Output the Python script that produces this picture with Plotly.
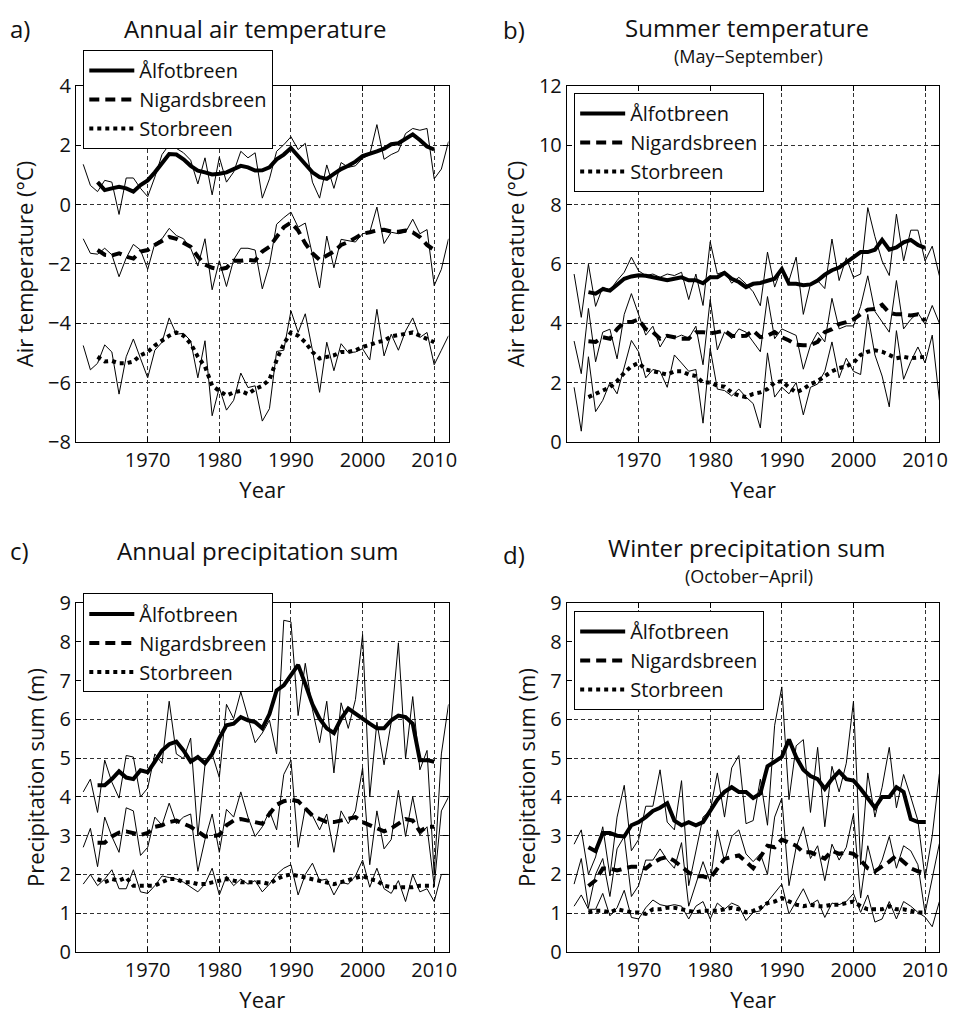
import plotly.graph_objects as go

# ---------------------------------------------------------------
# Years
years = list(range(1961, 2013))          # annual values
years_smooth = list(range(1963, 2011))   # 5-year running means

stations = ["Ålfotbreen", "Nigardsbreen", "Storbreen"]

# ---------------------------------------------------------------
# a) Annual air temperature (°C)
ann_temp_alfot = [1.36, 0.65, 0.44, 0.82, 0.76, -0.33, 0.9, 0.9, 0.55, 0.27,
                  0.93, 1.69, 2.02, 1.9, 1.75, 1.5, 0.7, 1.58, 0.33, 1.6,
                  0.76, 1.1, 1.8, 1.58, 1.75, 0.22, 0.87, 1.8, 2.02, 2.29,
                  1.86, 2.07, 0.76, 0.22, 1.34, 0.55, 1.42, 1.26, 1.31, 1.56,
                  1.69, 2.7, 1.53, 1.69, 1.8, 2.4, 2.57, 2.51, 2.57, 0.87,
                  1.2, 2.13]
ann_temp_nigard = [-1.15, -1.64, -1.67, -1.47, -1.69, -2.43, -1.8, -1.34, -1.53, -2.18,
                   -1.31, -1.15, -0.8, -1.04, -1.15, -1.47, -2.07, -1.15, -2.87, -1.89,
                   -2.76, -1.86, -1.47, -1.47, -1.53, -2.84, -2.02, -0.66, -0.44, -0.25,
                   -0.76, -0.62, -1.69, -2.81, -1.06, -2.13, -1.17, -1.22, -1.26, -0.98,
                   -0.93, -0.08, -1.31, -0.93, -0.98, -0.93, -0.49, -0.98, -0.84, -2.73,
                   -2.18, -1.15]
ann_temp_stor = [-4.75, -5.57, -5.35, -4.73, -4.97, -6.39, -5.13, -4.53, -5.19, -5.84,
                 -4.91, -4.64, -3.82, -4.37, -4.34, -4.59, -5.84, -4.59, -7.12, -6.17,
                 -6.93, -6.6, -5.68, -6.17, -6.11, -7.3, -6.88, -4.95, -4.91, -3.58,
                 -4.31, -3.68, -4.91, -6.33, -4.64, -5.6, -4.69, -4.99, -4.97, -4.86,
                 -5.24, -3.53, -5.1, -4.37, -4.91, -4.26, -3.82, -4.48, -4.31, -5.4,
                 -4.91, -4.42]
ann_temp_alfot_sm = [0.76, 0.49, 0.55, 0.6, 0.55, 0.44, 0.66, 0.82, 1.09, 1.42,
                     1.71, 1.69, 1.53, 1.31, 1.15, 1.09, 1.02, 1.04, 1.09, 1.2,
                     1.31, 1.26, 1.15, 1.16, 1.26, 1.53, 1.69, 1.91, 1.64, 1.36,
                     1.09, 0.93, 0.87, 1.04, 1.2, 1.31, 1.45, 1.64, 1.71, 1.8,
                     1.89, 2.04, 2.07, 2.24, 2.37, 2.18, 1.96, 1.86]
ann_temp_nigard_sm = [-1.53, -1.69, -1.71, -1.64, -1.75, -1.82, -1.58, -1.53, -1.36, -1.23,
                      -1.09, -1.15, -1.28, -1.42, -1.75, -2.02, -2.13, -2.18, -2.13, -1.89,
                      -1.89, -1.86, -1.89, -1.58, -1.42, -1.09, -0.76, -0.6, -0.87, -1.31,
                      -1.64, -1.86, -1.71, -1.58, -1.36, -1.26, -1.12, -0.98, -0.93, -0.87,
                      -0.85, -0.91, -0.91, -0.87, -0.93, -1.09, -1.36, -1.53]
ann_temp_stor_sm = [-5.13, -5.29, -5.27, -5.35, -5.35, -5.29, -5.08, -4.97, -4.75, -4.59,
                    -4.42, -4.31, -4.42, -4.69, -5.13, -5.46, -6.11, -6.28, -6.44, -6.33,
                    -6.28, -6.39, -6.22, -6.11, -5.9, -5.24, -4.69, -4.31, -4.42, -4.64,
                    -4.97, -5.19, -5.13, -5.08, -4.97, -4.97, -4.91, -4.8, -4.73, -4.64,
                    -4.59, -4.44, -4.4, -4.37, -4.31, -4.42, -4.53, -4.64]

# ---------------------------------------------------------------
# b) Summer temperature, May-September (°C)
sum_temp_alfot = [5.66, 4.2, 5.99, 4.57, 5.22, 5.11, 5.44, 5.72, 6.23, 5.77,
                  5.61, 5.66, 5.55, 5.66, 5.61, 5.72, 4.8, 5.66, 4.6, 6.75,
                  5.66, 5.75, 5.35, 5.55, 5.33, 5.06, 4.59, 6.4, 5.22, 5.88,
                  5.44, 6.23, 4.3, 5.33, 5.44, 5.17, 6.84, 5.44, 6.21, 5.55,
                  5.66, 7.9, 6.92, 6.1, 5.61, 7.68, 6.1, 7.14, 7.14, 6.1,
                  6.6, 5.6]
sum_temp_nigard = [3.4, 2.3, 4.5, 2.7, 3.7, 3.8, 2.8, 4.3, 5.0, 4.3,
                   3.6, 3.9, 3.2, 3.6, 3.5, 3.6, 3.5, 3.9, 2.6, 4.8,
                   3.1, 3.7, 3.48, 3.81, 3.7, 3.37, 3.04, 4.9, 3.48, 3.81,
                   3.7, 3.59, 2.45, 3.26, 3.7, 3.37, 4.84, 3.81, 3.91, 3.91,
                   4.57, 5.6, 4.4, 4.03, 3.7, 5.44, 3.81, 4.13, 4.35, 3.97,
                   4.6, 4.0]
sum_temp_stor = [1.84, 0.36, 2.87, 1.02, 1.4, 2.0, 1.62, 2.49, 3.42, 3.04,
                 2.16, 2.44, 2.38, 1.84, 2.93, 2.66, 2.38, 2.44, 0.63, 3.15,
                 1.78, 1.73, 1.55, 1.78, 1.51, 1.29, 0.47, 3.0, 1.51, 1.84,
                 1.62, 2.0, 0.91, 1.84, 1.95, 2.38, 3.37, 2.16, 2.82, 2.38,
                 2.27, 4.3, 2.93, 2.22, 1.18, 3.75, 2.11, 2.71, 3.2, 2.66,
                 3.6, 1.4]
sum_temp_alfot_sm = [5.05, 5.0, 5.15, 5.1, 5.3, 5.5, 5.58, 5.62, 5.6, 5.55,
                     5.5, 5.45, 5.5, 5.55, 5.45, 5.45, 5.35, 5.55, 5.55, 5.7,
                     5.5, 5.39, 5.22, 5.33, 5.36, 5.44, 5.5, 5.83, 5.33, 5.33,
                     5.28, 5.31, 5.44, 5.64, 5.79, 5.88, 6.04, 6.21, 6.4, 6.4,
                     6.48, 6.81, 6.48, 6.56, 6.73, 6.81, 6.64, 6.54]
sum_temp_nigard_sm = [3.39, 3.37, 3.53, 3.48, 3.8, 4.04, 4.04, 4.13, 3.8, 3.7,
                      3.48, 3.58, 3.53, 3.48, 3.48, 3.7, 3.7, 3.66, 3.7, 3.75,
                      3.58, 3.56, 3.58, 3.75, 3.53, 3.58, 3.7, 3.53, 3.42, 3.28,
                      3.26, 3.26, 3.37, 3.7, 3.8, 3.97, 4.04, 4.13, 4.3, 4.46,
                      4.48, 4.62, 4.35, 4.3, 4.3, 4.26, 4.3, 4.08]
sum_temp_stor_sm = [1.51, 1.62, 1.73, 1.84, 2.05, 2.33, 2.55, 2.66, 2.44, 2.38,
                    2.33, 2.27, 2.38, 2.38, 2.27, 2.22, 2.0, 2.0, 1.89, 1.86,
                    1.67, 1.56, 1.51, 1.62, 1.67, 1.78, 2.0, 2.05, 1.84, 1.67,
                    1.78, 1.95, 2.05, 2.22, 2.38, 2.49, 2.55, 2.66, 2.93, 3.04,
                    3.09, 3.04, 2.93, 2.82, 2.87, 2.82, 2.84, 2.87]

# ---------------------------------------------------------------
# c) Annual precipitation sum (m)
ann_prec_alfot = [4.13, 4.46, 3.6, 4.95, 4.38, 3.97, 5.07, 5.03, 4.0, 4.23,
                  5.11, 4.87, 6.47, 5.11, 4.99, 5.52, 3.0, 4.83, 5.11, 4.5,
                  6.39, 6.02, 6.71, 6.02, 5.4, 5.65, 5.98, 5.11, 8.56, 8.52,
                  6.1, 7.45, 6.26, 5.4, 6.47, 4.62, 6.43, 5.77, 6.51, 8.19,
                  4.0, 5.93, 4.83, 5.93, 7.98, 4.99, 6.59, 4.7, 5.2, 2.0,
                  5.11, 6.39]
ann_prec_nigard = [2.7, 3.19, 2.2, 3.48, 2.98, 2.57, 3.72, 3.64, 2.49, 2.7,
                   3.48, 3.27, 3.84, 3.31, 3.48, 3.56, 2.08, 2.9, 3.56, 2.57,
                   3.68, 3.48, 4.13, 3.48, 2.98, 3.23, 3.64, 3.15, 4.58, 4.95,
                   2.7, 3.72, 3.52, 3.15, 3.56, 2.57, 3.64, 3.31, 3.64, 4.75,
                   2.25, 3.64, 2.66, 2.9, 4.17, 2.98, 4.0, 3.02, 3.23, 1.7,
                   3.64, 4.0]
ann_prec_stor = [1.75, 2.0, 1.71, 1.88, 2.12, 1.63, 1.63, 2.12, 1.55, 1.51,
                 1.71, 1.96, 1.92, 1.88, 1.8, 1.67, 1.55, 1.75, 2.16, 1.47,
                 1.96, 1.71, 1.88, 1.75, 1.84, 1.55, 1.75, 2.0, 2.16, 2.25,
                 1.47, 2.0, 2.29, 1.84, 1.88, 1.47, 1.8, 1.75, 1.96, 2.37,
                 1.67, 2.16, 1.63, 1.51, 1.84, 1.3, 2.0, 1.55, 1.63, 1.3,
                 2.0, 2.0]
ann_prec_alfot_sm = [4.3, 4.3, 4.46, 4.66, 4.5, 4.46, 4.69, 4.64, 4.91, 5.2,
                     5.36, 5.43, 5.2, 4.91, 5.03, 4.87, 5.11, 5.52, 5.85, 5.89,
                     6.06, 5.98, 5.93, 5.77, 6.14, 6.75, 6.88, 7.16, 7.41, 6.92,
                     6.39, 6.02, 5.77, 5.65, 6.02, 6.28, 6.14, 6.02, 5.89, 5.77,
                     5.77, 5.98, 6.1, 6.06, 5.89, 4.95, 4.95, 4.91]
ann_prec_nigard_sm = [2.82, 2.82, 2.98, 3.08, 3.11, 3.07, 3.02, 3.07, 3.23, 3.27,
                      3.35, 3.39, 3.31, 3.23, 3.11, 2.98, 2.98, 3.02, 3.27, 3.39,
                      3.43, 3.39, 3.35, 3.31, 3.56, 3.8, 3.89, 3.93, 3.89, 3.72,
                      3.52, 3.43, 3.35, 3.35, 3.39, 3.43, 3.48, 3.35, 3.27, 3.19,
                      3.11, 3.19, 3.31, 3.43, 3.39, 3.11, 3.23, 3.23]
ann_prec_stor_sm = [1.88, 1.8, 1.88, 1.84, 1.92, 1.71, 1.71, 1.71, 1.71, 1.8,
                    1.88, 1.88, 1.8, 1.8, 1.75, 1.75, 1.8, 1.84, 1.88, 1.84,
                    1.8, 1.8, 1.8, 1.8, 1.75, 1.88, 1.96, 2.0, 1.96, 1.92,
                    1.88, 1.84, 1.8, 1.75, 1.8, 1.85, 1.92, 1.96, 1.88, 1.84,
                    1.71, 1.67, 1.67, 1.67, 1.67, 1.71, 1.71, 1.71]

# ---------------------------------------------------------------
# d) Winter precipitation sum, October-April (m)
win_prec_alfot = [2.78, 3.15, 2.0, 2.45, 3.23, 1.96, 3.48, 4.3, 2.61, 2.9,
                  3.76, 3.76, 4.7, 3.35, 3.15, 4.42, 1.71, 2.61, 3.48, 3.64,
                  4.62, 3.48, 4.75, 5.07, 3.31, 3.39, 4.46, 3.27, 5.85, 6.84,
                  3.93, 5.32, 5.48, 3.6, 5.28, 3.23, 4.79, 4.13, 4.87, 6.47,
                  2.25, 4.62, 3.48, 4.25, 5.28, 3.72, 4.58, 4.0, 3.39, 1.9,
                  3.0, 4.6]
win_prec_nigard = [1.75, 2.41, 1.14, 2.0, 2.41, 1.43, 2.66, 2.98, 1.43, 1.71,
                   2.37, 2.37, 2.66, 2.37, 2.16, 2.82, 1.18, 1.75, 2.33, 1.8,
                   3.15, 2.33, 2.98, 3.15, 2.53, 2.33, 2.53, 2.0, 3.48, 3.97,
                   1.71, 2.7, 3.23, 2.41, 2.74, 1.84, 2.78, 2.37, 2.7, 3.56,
                   1.39, 2.74, 2.0, 2.37, 2.98, 2.16, 2.74, 2.61, 2.25, 1.0,
                   1.9, 2.8]
win_prec_stor = [1.18, 1.47, 1.1, 1.1, 1.51, 0.93, 1.14, 1.59, 0.89, 0.85,
                 1.14, 1.34, 1.22, 1.18, 1.22, 1.18, 0.85, 1.18, 1.3, 0.85,
                 1.26, 1.1, 1.26, 1.18, 0.81, 1.02, 1.06, 1.3, 1.51, 1.75,
                 0.98, 1.3, 1.63, 1.22, 1.34, 0.89, 1.26, 1.22, 1.3, 1.51,
                 1.02, 1.47, 0.77, 0.85, 1.3, 0.85, 1.3, 1.18, 1.02, 0.9,
                 0.65, 1.3]
win_prec_alfot_sm = [2.7, 2.6, 3.07, 3.07, 3.0, 2.98, 3.27, 3.35, 3.48, 3.64,
                     3.72, 3.84, 3.39, 3.27, 3.35, 3.27, 3.35, 3.64, 3.93, 4.13,
                     4.25, 4.13, 4.13, 3.97, 4.09, 4.79, 4.91, 5.03, 5.48, 5.03,
                     4.7, 4.54, 4.46, 4.21, 4.46, 4.66, 4.46, 4.42, 4.21, 3.97,
                     3.72, 4.0, 4.0, 4.25, 4.13, 3.43, 3.35, 3.35]
win_prec_nigard_sm = [1.7, 1.85, 2.15, 2.15, 2.1, 2.15, 2.2, 2.2, 2.15, 2.3,
                      2.4, 2.45, 2.35, 2.2, 2.05, 1.95, 1.95, 1.9, 2.15, 2.4,
                      2.45, 2.49, 2.33, 2.16, 2.45, 2.74, 2.7, 2.9, 2.82, 2.74,
                      2.57, 2.57, 2.49, 2.41, 2.61, 2.53, 2.57, 2.53, 2.37, 2.16,
                      2.08, 2.2, 2.33, 2.49, 2.33, 2.16, 2.08, 2.04]
win_prec_stor_sm = [1.02, 1.06, 1.06, 1.02, 1.1, 1.06, 1.02, 1.02, 0.98, 1.1,
                    1.1, 1.14, 1.14, 1.1, 1.06, 1.02, 1.06, 1.06, 1.06, 1.1,
                    1.14, 1.1, 1.02, 1.06, 1.14, 1.26, 1.3, 1.39, 1.3, 1.22,
                    1.18, 1.22, 1.18, 1.18, 1.22, 1.22, 1.26, 1.3, 1.18, 1.1,
                    1.1, 1.1, 1.18, 1.1, 1.1, 1.06, 1.02, 1.02]

# ---------------------------------------------------------------
W, H = 960, 1036
FONT = "Open Sans"
INK = "#111111"


def px(x):
    return x / W


def py(y):
    return 1 - y / H


panels = [
    dict(xa="x", ya="y", legend="legend",
         annual=[ann_temp_alfot, ann_temp_nigard, ann_temp_stor],
         smooth=[ann_temp_alfot_sm, ann_temp_nigard_sm, ann_temp_stor_sm]),
    dict(xa="x2", ya="y2", legend="legend2",
         annual=[sum_temp_alfot, sum_temp_nigard, sum_temp_stor],
         smooth=[sum_temp_alfot_sm, sum_temp_nigard_sm, sum_temp_stor_sm]),
    dict(xa="x3", ya="y3", legend="legend3",
         annual=[ann_prec_alfot, ann_prec_nigard, ann_prec_stor],
         smooth=[ann_prec_alfot_sm, ann_prec_nigard_sm, ann_prec_stor_sm]),
    dict(xa="x4", ya="y4", legend="legend4",
         annual=[win_prec_alfot, win_prec_nigard, win_prec_stor],
         smooth=[win_prec_alfot_sm, win_prec_nigard_sm, win_prec_stor_sm]),
]

smooth_dash = ["solid", "10px,6px", "4px,4px"]

fig = go.Figure()
for p in panels:
    # thin lines: annual values
    for series in p["annual"]:
        fig.add_trace(go.Scatter(
            x=years, y=series, mode="lines", xaxis=p["xa"], yaxis=p["ya"],
            line=dict(color="black", width=1), showlegend=False,
            hoverinfo="skip"))
    # thick lines: running means, one legend per panel
    for name, series, dash in zip(stations, p["smooth"], smooth_dash):
        fig.add_trace(go.Scatter(
            x=years_smooth, y=series, mode="lines", name=name,
            xaxis=p["xa"], yaxis=p["ya"], legend=p["legend"],
            line=dict(color="black", width=4, dash=dash)))

# axis boxes in page pixels
x_left = [px(76.7), px(452.3)]
x_right = [px(571.7), px(947.3)]
y_top = [py(439.3), py(74)]
y_bot = [py(963), py(605)]

grid_common = dict(showgrid=True, griddash="4px,3px", gridcolor="#333333",
                   gridwidth=0.8, showline=True, linecolor="black",
                   linewidth=1.3, mirror="ticks", ticks="inside", ticklen=5,
                   tickcolor="black", zeroline=False,
                   tickfont=dict(family=FONT, size=20, color=INK))

xcommon = dict(range=[1960, 2012], tickvals=[1970, 1980, 1990, 2000, 2010],
               title=dict(text="Year", font=dict(family=FONT, size=22, color=INK),
                          standoff=10),
               **grid_common)

temp_title = dict(text="Air temperature (°C)", font=dict(family=FONT, size=22, color=INK),
                  standoff=8)
prec_title = dict(text="Precipitation sum (m)", font=dict(family=FONT, size=22, color=INK),
                  standoff=8)

fig.update_layout(
    xaxis=dict(domain=x_left, anchor="y", **xcommon),
    yaxis=dict(domain=y_top, anchor="x", range=[-8, 4], dtick=2, title=temp_title, **grid_common),
    xaxis2=dict(domain=x_right, anchor="y2", **xcommon),
    yaxis2=dict(domain=y_top, anchor="x2", range=[0, 12], dtick=2, title=temp_title, **grid_common),
    xaxis3=dict(domain=x_left, anchor="y3", **xcommon),
    yaxis3=dict(domain=y_bot, anchor="x3", range=[0, 9], dtick=1, title=prec_title, **grid_common),
    xaxis4=dict(domain=x_right, anchor="y4", **xcommon),
    yaxis4=dict(domain=y_bot, anchor="x4", range=[0, 9], dtick=1, title=prec_title, **grid_common),
)

legend_style = dict(bgcolor="white", bordercolor="black", borderwidth=1,
                    font=dict(family=FONT, size=20, color=INK),
                    xanchor="left", yanchor="top", itemwidth=45,
                    tracegroupgap=0)
fig.update_layout(
    legend=dict(x=px(84), y=py(37), **legend_style),
    legend2=dict(x=px(579), y=py(81), **legend_style),
    legend3=dict(x=px(84), y=py(595), **legend_style),
    legend4=dict(x=px(579), y=py(613), **legend_style),
)

# panel letters, titles and season subtitles
texts = [
    ("a)", 20, 15, 24), ("Annual air temperature", 258, 15, 24),
    ("b)", 518, 16, 24), ("Summer temperature", 753, 14, 24),
    ("(May−September)", 755, 43, 18),
    ("c)", 20, 551, 24), ("Annual precipitation sum", 260, 551, 24),
    ("d)", 518, 555, 24), ("Winter precipitation sum", 753, 548, 24),
    ("(October−April)", 755, 577, 18),
]
for txt, x, y, size in texts:
    fig.add_annotation(text=txt, x=px(x), y=py(y), xref="paper", yref="paper",
                       xanchor="center", yanchor="middle", showarrow=False,
                       font=dict(family=FONT, size=size, color=INK))

fig.update_layout(width=W, height=H, margin=dict(l=0, r=0, t=0, b=0),
                  paper_bgcolor="white", plot_bgcolor="white",
                  font=dict(family=FONT, color=INK))

fig.write_html("out.html")
